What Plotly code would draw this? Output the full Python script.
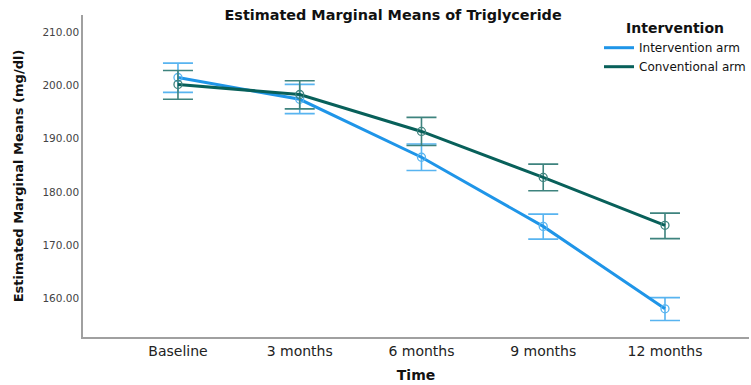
import plotly.graph_objects as go

# Time points and estimated marginal means (mg/dl) with 95% CI bounds
time_points = ["Baseline", "3 months", "6 months", "9 months", "12 months"]

intervention_mean = [201.5, 197.4, 186.5, 173.5, 158.0]
intervention_upper = [204.2, 200.2, 189.0, 175.8, 160.1]
intervention_lower = [198.7, 194.7, 184.0, 171.1, 155.8]

conventional_mean = [200.2, 198.3, 191.35, 182.7, 173.7]
conventional_upper = [202.8, 200.9, 194.0, 185.2, 176.0]
conventional_lower = [197.4, 195.6, 188.7, 180.2, 171.2]

y_ticks = [160, 170, 180, 190, 200, 210]

FONT = "DejaVu Sans"
BLUE = "#1F95E8"
BLUE_LIGHT = "#58B4F0"
TEAL = "#08605A"
TEAL_LIGHT = "#3E837E"


def series(name, mean, upper, lower, color, light):
    return go.Scatter(
        x=list(range(len(time_points))),
        y=mean,
        name=name,
        mode="lines+markers",
        showlegend=False,
        line=dict(color=color, width=3),
        marker=dict(symbol="circle-open", size=8, color=light, line=dict(width=1.3, color=light)),
        error_y=dict(
            type="data",
            symmetric=False,
            array=[u - m for u, m in zip(upper, mean)],
            arrayminus=[m - l for m, l in zip(mean, lower)],
            color=light,
            thickness=1.6,
            width=15,
        ),
    )


def legend_entry(name, color):
    # line-only legend key
    return go.Scatter(x=[None], y=[None], name=name, mode="lines",
                      line=dict(color=color, width=3), showlegend=True)


fig = go.Figure()
fig.add_trace(series("Intervention arm", intervention_mean, intervention_upper,
                     intervention_lower, BLUE, BLUE_LIGHT))
fig.add_trace(series("Conventional arm", conventional_mean, conventional_upper,
                     conventional_lower, TEAL, TEAL_LIGHT))
fig.add_trace(legend_entry("Intervention arm", BLUE))
fig.add_trace(legend_entry("Conventional arm", TEAL))

fig.update_layout(
    width=751,
    height=385,
    margin=dict(l=83, r=0, t=15, b=48),
    paper_bgcolor="white",
    plot_bgcolor="white",
    font=dict(family=FONT, color="#222"),
    title=dict(
        text="<b>Estimated Marginal Means of Triglyceride</b>",
        font=dict(family=FONT, size=14.4, color="#111"),
        x=(394 - 83) / 668, xref="paper", xanchor="center",
        y=1 - 15 / 385, yref="container", yanchor="middle",
    ),
    legend=dict(
        title=dict(text="<b>Intervention</b>", side="top center",
                   font=dict(family=FONT, size=14, color="#111")),
        font=dict(family=FONT, size=12, color="#111"),
        x=0.775, xanchor="left", y=1.0, yanchor="top",
        bgcolor="rgba(0,0,0,0)",
        tracegroupgap=0,
        itemwidth=30,
    ),
    xaxis=dict(
        range=[-0.78, 4.69],
        tickmode="array",
        tickvals=list(range(len(time_points))),
        ticktext=time_points,
        showgrid=False,
        zeroline=False,
        showline=True,
        linecolor="#A0A0A0",
        linewidth=1.5,
        ticks="",
        tickfont=dict(family=FONT, size=14, color="#222"),
        title=dict(text="<b>Time</b>", font=dict(family=FONT, size=14, color="#111"), standoff=13),
        automargin=False,
    ),
    yaxis=dict(
        range=[152.7, 213.25],
        tickvals=y_ticks,
        ticktext=[f"{v:.2f}" for v in y_ticks],
        showgrid=False,
        zeroline=False,
        showline=True,
        linecolor="#A0A0A0",
        linewidth=1.5,
        ticks="",
        tickfont=dict(family=FONT, size=10.5, color="#444"),
        title=dict(text="<b>Estimated Marginal Means (mg/dl)</b>",
                   font=dict(family=FONT, size=13, color="#111"), standoff=16),
        automargin=False,
    ),
)

fig.write_html("out.html")
